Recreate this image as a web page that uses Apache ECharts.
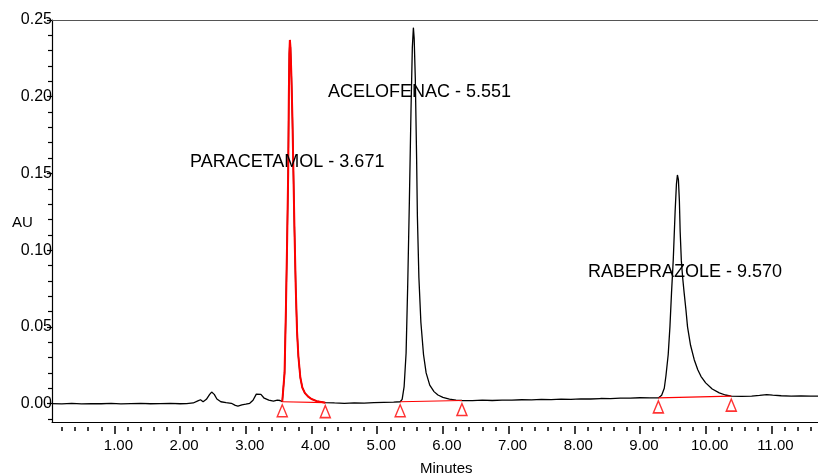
<!DOCTYPE html>
<html>
<head>
<meta charset="utf-8">
<script src="https://cdn.jsdelivr.net/npm/echarts@6/dist/echarts.min.js"></script>
<style>
html,body{margin:0;padding:0;background:#fff;}
#chart{width:818px;height:473px;}
</style>
</head>
<body>
<div id="chart"></div>
<script>
// Retention time (minutes)
const times = [
  0.05,0.20,0.35,0.50,0.65,0.80,0.95,1.10,1.25,1.40,1.55,1.70,1.85,2.00,2.10,2.20,2.27,2.31,2.35,2.40,
  2.45,2.48,2.52,2.56,2.62,2.70,2.78,2.84,2.88,2.94,3.00,3.06,3.11,3.16,3.19,3.23,3.28,3.35,3.42,3.48,
  3.52,3.555,3.57,3.59,3.61,3.63,3.645,3.655,3.663,3.671,3.68,3.695,3.71,3.725,3.74,3.76,3.78,3.80,3.83,3.86,
  3.90,3.95,4.00,4.08,4.21,4.35,4.50,4.65,4.80,4.95,5.10,5.25,5.35,5.38,5.41,5.44,5.465,5.49,5.515,5.535,
  5.551,5.563,5.58,5.60,5.612,5.635,5.665,5.705,5.745,5.80,5.865,5.925,6.00,6.10,6.20,6.29,6.45,6.60,6.75,6.90,
  7.05,7.20,7.35,7.50,7.65,7.80,7.95,8.10,8.25,8.40,8.55,8.70,8.85,9.00,9.15,9.28,9.33,9.37,9.395,9.43,
  9.456,9.48,9.507,9.535,9.555,9.570,9.585,9.60,9.612,9.63,9.65,9.673,9.70,9.724,9.77,9.826,9.88,9.928,10.00,10.10,
  10.207,10.30,10.39,10.55,10.70,10.82,10.93,11.02,11.15,11.30,11.45,11.60,11.71
];
// Absorbance (AU)
const au = [
  0.0000,-0.0002,0.0001,-0.0002,0.0000,-0.0001,0.0001,-0.0002,0.0000,0.0001,-0.0001,0.0000,0.0001,-0.0001,0.0000,0.0004,0.0018,0.0025,0.0012,0.0028,
  0.0060,0.0075,0.0060,0.0030,0.0012,0.0006,0.0002,-0.0012,-0.0016,-0.0008,-0.0004,0.0002,0.0022,0.0062,0.0075,0.0060,0.0035,0.0022,0.0016,0.0022,
  0.0020,0.0012,0.0025,0.020,0.060,0.108,0.150,0.200,0.228,0.237,0.232,0.212,0.185,0.150,0.115,0.076,0.047,0.031,0.017,0.0105,
  0.0068,0.0045,0.0030,0.0016,0.0006,0.0004,0.0002,0.0005,0.0003,0.0006,0.0008,0.0010,0.0012,0.0028,0.011,0.033,0.078,0.132,0.192,0.232,
  0.245,0.238,0.212,0.160,0.122,0.082,0.053,0.032,0.020,0.0120,0.0078,0.0056,0.0040,0.0029,0.0023,0.0020,0.0019,0.0022,0.0020,0.0023,
  0.0022,0.0025,0.0024,0.0027,0.0026,0.0029,0.0028,0.0031,0.0030,0.0033,0.0032,0.0036,0.0035,0.0038,0.0037,0.0037,0.0055,0.0100,0.018,0.032,
  0.050,0.072,0.094,0.125,0.143,0.149,0.146,0.132,0.112,0.093,0.082,0.072,0.061,0.050,0.038,0.0286,0.0220,0.0178,0.0135,0.0095,
  0.0070,0.0056,0.0049,0.0047,0.0049,0.0053,0.0058,0.0055,0.0051,0.0049,0.0050,0.0048,0.0049
];
const peakNames = ['PARACETAMOL', 'ACELOFENAC', 'RABEPRAZOLE'];
const retentionTimes = [3.671, 5.551, 9.570];
const peakStart = [3.555, 5.35, 9.28];
const peakEnd = [4.21, 6.29, 10.39];
const redPeakIndex = 0;

const xTickLabels = [1, 2, 3, 4, 5, 6, 7, 8, 9, 10, 11];
const xMinorTicks = [0.2,0.4,0.6,0.8,1.2,1.4,1.6,1.8,2.2,2.4,2.6,2.8,3.2,3.4,3.6,3.8,4.2,4.4,4.6,4.8,
  5.2,5.4,5.6,5.8,6.2,6.4,6.6,6.8,7.2,7.4,7.6,7.8,8.2,8.4,8.6,8.8,9.2,9.4,9.6,9.8,
  10.2,10.4,10.6,10.8,11.2,11.4,11.6];
const yTickLabels = [0, 0.05, 0.10, 0.15, 0.20, 0.25];
const yMinorTicks = [-0.01,0.01,0.02,0.03,0.04,0.06,0.07,0.08,0.09,0.11,0.12,0.13,0.14,0.16,0.17,0.18,0.19,0.21,0.22,0.23,0.24];

const X_MIN = 0.05, X_MAX = 11.71, Y_MIN = -0.012, Y_MAX = 0.25;
const FONT = 'Liberation Sans, Arial, sans-serif';

const trace = times.map((t, i) => [t, au[i]]);
const valueAt = t => au[times.indexOf(t)];
const redTrace = trace.filter(p => p[0] >= peakStart[redPeakIndex] && p[0] <= peakEnd[redPeakIndex]);
const baselineData = [];
const triangleData = [];
peakStart.forEach((s, i) => {
  const e = peakEnd[i];
  baselineData.push([s, valueAt(s)], [e, valueAt(e)], null);
  triangleData.push([s, valueAt(s)], [e, valueAt(e)]);
});
baselineData.pop();

const chart = echarts.init(document.getElementById('chart'), null, {renderer: 'canvas'});

const labelPos = [[190, 162.5], [328, 91.7], [588, 272.5]];

const xBase = {type: 'value', min: X_MIN, max: X_MAX, splitLine: {show: false}};
const yBase = {type: 'value', min: Y_MIN, max: Y_MAX, splitLine: {show: false}};

chart.setOption({
  animation: false,
  backgroundColor: '#fff',
  grid: {left: 52, right: 0, top: 20, bottom: 51, containLabel: false},
  xAxis: [
    Object.assign({}, xBase, {
      position: 'bottom',
      axisLine: {show: true, onZero: false, lineStyle: {color: '#000', width: 1}},
      axisTick: {show: false},
      axisLabel: {
        customValues: xTickLabels, formatter: v => v.toFixed(2),
        fontSize: 15, fontFamily: FONT, color: '#000', margin: 16, padding: [0, 0, 0, 8]
      }
    }),
    Object.assign({}, xBase, {
      position: 'bottom', offset: 4,
      axisLine: {show: false, onZero: false},
      axisTick: {show: true, customValues: xTickLabels, length: 8, lineStyle: {color: '#000', width: 1.5}},
      axisLabel: {show: false}
    }),
    Object.assign({}, xBase, {
      position: 'bottom', offset: 5,
      axisLine: {show: false, onZero: false},
      axisTick: {show: true, customValues: xMinorTicks, length: 4, lineStyle: {color: '#000', width: 1.5}},
      axisLabel: {show: false}
    }),
    Object.assign({}, xBase, {
      position: 'top',
      axisLine: {show: true, onZero: false, lineStyle: {color: '#555', width: 1}},
      axisTick: {show: false},
      axisLabel: {show: false}
    })
  ],
  yAxis: [
    Object.assign({}, yBase, {
      position: 'left',
      axisLine: {show: true, onZero: false, lineStyle: {color: '#000', width: 1.2}},
      axisTick: {show: true, customValues: yTickLabels, length: 5, lineStyle: {color: '#000', width: 1.2}},
      axisLabel: {
        customValues: yTickLabels, formatter: v => v.toFixed(2),
        fontSize: 16, fontFamily: FONT, color: '#000', margin: 0
      }
    }),
    Object.assign({}, yBase, {
      position: 'left',
      axisLine: {show: false, onZero: false},
      axisTick: {show: true, customValues: yMinorTicks, length: 4, lineStyle: {color: '#000', width: 1.2}},
      axisLabel: {show: false}
    })
  ],
  series: [
    {
      type: 'line', data: trace, showSymbol: false, symbol: 'none',
      lineStyle: {color: '#000', width: 1.3}, xAxisIndex: 0, yAxisIndex: 0, z: 2
    },
    {
      type: 'line', data: redTrace, showSymbol: false, symbol: 'none',
      lineStyle: {color: '#ff0000', width: 2}, xAxisIndex: 0, yAxisIndex: 0, z: 3
    },
    {
      type: 'line', data: baselineData, showSymbol: false, symbol: 'none', connectNulls: false,
      lineStyle: {color: '#ff0000', width: 1.2}, xAxisIndex: 0, yAxisIndex: 0, z: 4
    },
    {
      type: 'scatter', data: triangleData, symbol: 'triangle', symbolSize: [10, 12], symbolOffset: [0, 9],
      itemStyle: {color: 'rgba(255,255,255,0)', borderColor: '#ff0000', borderWidth: 1.5},
      xAxisIndex: 0, yAxisIndex: 0, z: 5
    }
  ],
  graphic: [
    ...peakNames.map((n, i) => ({
      type: 'text', x: labelPos[i][0], y: labelPos[i][1], z: 10,
      style: {text: n + ' - ' + retentionTimes[i].toFixed(3), fontSize: 18, fontFamily: FONT, fill: '#000', verticalAlign: 'middle', align: 'left'}
    })),
    {type: 'text', x: 12, y: 222.5, style: {text: 'AU', fontSize: 15, fontFamily: FONT, fill: '#000', verticalAlign: 'middle'}},
    {type: 'text', x: 420, y: 461, style: {text: 'Minutes', fontSize: 15, fontFamily: FONT, fill: '#000', verticalAlign: 'top'}}
  ]
});
</script>
</body>
</html>
